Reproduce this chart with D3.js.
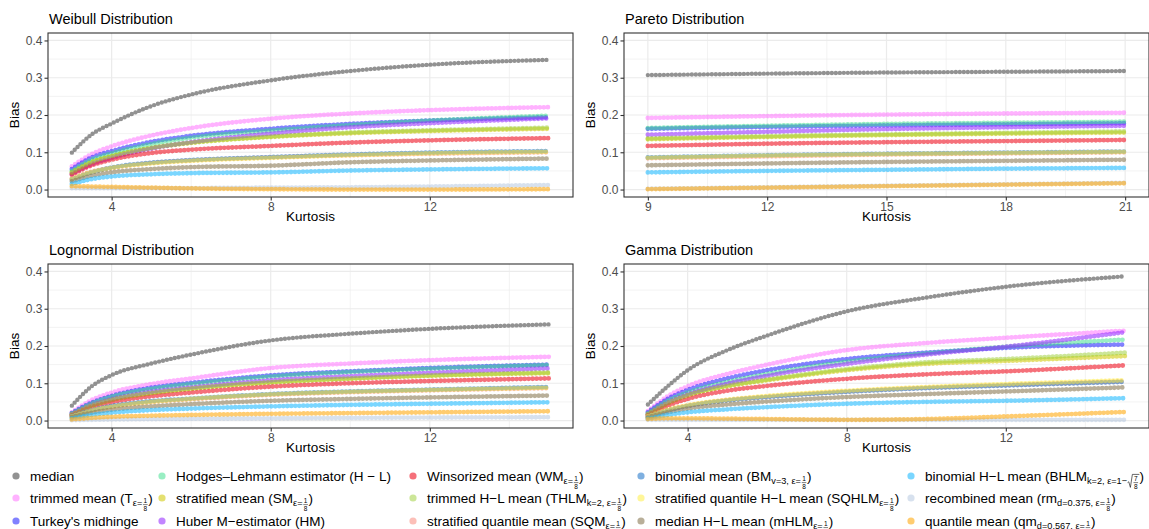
<!DOCTYPE html>
<html>
<head>
<meta charset="utf-8">
<script src="https://cdnjs.cloudflare.com/ajax/libs/d3/7.8.5/d3.min.js"></script>
<style>
  body { margin: 0; background: #fff; }
  text { font-family: "Liberation Sans", Arial, sans-serif; }
</style>
</head>
<body>
<svg id="chart" width="1149" height="529"></svg>
<script>
/* global d3: false */

const kurtosisGrid = [3, 3.5, 4, 5, 6, 8, 10, 12, 15];
const paretoGrid = [9, 12, 15, 18, 21];

// estimator order = legend order (column-major, 3 rows)
const estimators = [
  'median', 'trimmed mean', "Turkey's midhinge",
  'Hodges-Lehmann estimator', 'stratified mean', 'Huber M-estimator',
  'Winsorized mean', 'trimmed H-L mean', 'stratified quantile mean',
  'binomial mean', 'stratified quantile H-L mean', 'median H-L mean',
  'binomial H-L mean', 'recombined mean', 'quantile mean',
];

// one row per estimator, one column per kurtosisGrid value
const weibullBias = [
  [0.099, 0.148, 0.177, 0.224, 0.255, 0.293, 0.318, 0.335, 0.348],
  [0.062, 0.095, 0.116, 0.145, 0.165, 0.190, 0.204, 0.213, 0.221],
  [0.055, 0.086, 0.103, 0.128, 0.144, 0.163, 0.176, 0.185, 0.194],
  [0.050, 0.080, 0.097, 0.122, 0.139, 0.158, 0.173, 0.185, 0.198],
  [0.045, 0.073, 0.089, 0.111, 0.125, 0.141, 0.151, 0.157, 0.163],
  [0.042, 0.068, 0.085, 0.110, 0.127, 0.150, 0.167, 0.178, 0.191],
  [0.040, 0.065, 0.080, 0.098, 0.107, 0.117, 0.126, 0.132, 0.138],
  [0.046, 0.074, 0.090, 0.112, 0.126, 0.142, 0.153, 0.159, 0.166],
  [0.030, 0.048, 0.058, 0.071, 0.078, 0.086, 0.092, 0.096, 0.100],
  [0.027, 0.046, 0.059, 0.072, 0.079, 0.087, 0.094, 0.099, 0.103],
  [0.028, 0.047, 0.058, 0.070, 0.077, 0.085, 0.092, 0.097, 0.101],
  [0.022, 0.037, 0.046, 0.055, 0.060, 0.064, 0.073, 0.078, 0.083],
  [0.015, 0.028, 0.035, 0.041, 0.044, 0.046, 0.051, 0.054, 0.057],
  [0.004, 0.004, 0.004, 0.004, 0.004, 0.005, 0.006, 0.008, 0.012],
  [0.009, 0.008, 0.007, 0.005, 0.003, 0.001, 0.000, 0.000, 0.001],
];

// one column per paretoGrid value
const paretoBias = [
  [0.307, 0.311, 0.314, 0.316, 0.318],
  [0.192, 0.197, 0.201, 0.204, 0.206],
  [0.163, 0.168, 0.172, 0.175, 0.178],
  [0.165, 0.171, 0.176, 0.179, 0.182],
  [0.135, 0.141, 0.146, 0.150, 0.153],
  [0.147, 0.155, 0.162, 0.167, 0.171],
  [0.117, 0.123, 0.127, 0.130, 0.133],
  [0.137, 0.143, 0.148, 0.152, 0.156],
  [0.084, 0.089, 0.094, 0.097, 0.100],
  [0.086, 0.092, 0.096, 0.099, 0.102],
  [0.085, 0.091, 0.095, 0.098, 0.101],
  [0.065, 0.070, 0.074, 0.077, 0.080],
  [0.046, 0.050, 0.053, 0.056, 0.058],
  [0.002, 0.006, 0.010, 0.014, 0.018],
  [0.001, 0.005, 0.009, 0.013, 0.017],
];

const lognormalBias = [
  [0.040, 0.092, 0.122, 0.153, 0.177, 0.215, 0.233, 0.246, 0.258],
  [0.022, 0.055, 0.075, 0.098, 0.113, 0.141, 0.153, 0.162, 0.171],
  [0.020, 0.048, 0.066, 0.088, 0.101, 0.121, 0.132, 0.141, 0.150],
  [0.019, 0.046, 0.064, 0.085, 0.098, 0.118, 0.130, 0.139, 0.149],
  [0.016, 0.040, 0.055, 0.073, 0.085, 0.102, 0.112, 0.120, 0.127],
  [0.016, 0.041, 0.057, 0.077, 0.089, 0.108, 0.119, 0.128, 0.140],
  [0.014, 0.036, 0.049, 0.065, 0.075, 0.091, 0.100, 0.106, 0.113],
  [0.016, 0.040, 0.056, 0.074, 0.086, 0.103, 0.113, 0.121, 0.129],
  [0.011, 0.027, 0.037, 0.050, 0.057, 0.069, 0.076, 0.081, 0.087],
  [0.012, 0.028, 0.039, 0.052, 0.059, 0.071, 0.078, 0.083, 0.090],
  [0.011, 0.027, 0.037, 0.050, 0.058, 0.070, 0.077, 0.082, 0.088],
  [0.009, 0.021, 0.029, 0.038, 0.044, 0.053, 0.058, 0.062, 0.067],
  [0.006, 0.015, 0.021, 0.028, 0.032, 0.038, 0.042, 0.045, 0.049],
  [0.001, 0.002, 0.003, 0.004, 0.005, 0.006, 0.007, 0.008, 0.009],
  [0.003, 0.007, 0.010, 0.013, 0.015, 0.018, 0.020, 0.022, 0.025],
];

const gammaBias = [
  [0.043, 0.092, 0.135, 0.189, 0.228, 0.293, 0.330, 0.359, 0.387],
  [0.025, 0.065, 0.092, 0.125, 0.150, 0.189, 0.208, 0.222, 0.241],
  [0.022, 0.058, 0.082, 0.113, 0.135, 0.165, 0.182, 0.195, 0.204],
  [0.019, 0.053, 0.075, 0.104, 0.125, 0.158, 0.180, 0.198, 0.217],
  [0.016, 0.046, 0.067, 0.092, 0.108, 0.135, 0.152, 0.160, 0.173],
  [0.016, 0.048, 0.070, 0.099, 0.120, 0.152, 0.177, 0.198, 0.237],
  [0.014, 0.040, 0.058, 0.080, 0.093, 0.112, 0.124, 0.132, 0.148],
  [0.017, 0.047, 0.068, 0.093, 0.110, 0.138, 0.156, 0.165, 0.182],
  [0.010, 0.028, 0.040, 0.055, 0.064, 0.078, 0.088, 0.095, 0.105],
  [0.010, 0.027, 0.039, 0.054, 0.063, 0.077, 0.087, 0.094, 0.104],
  [0.011, 0.029, 0.041, 0.056, 0.066, 0.080, 0.090, 0.098, 0.108],
  [0.008, 0.022, 0.032, 0.043, 0.051, 0.063, 0.071, 0.078, 0.089],
  [0.005, 0.015, 0.022, 0.030, 0.036, 0.045, 0.050, 0.053, 0.060],
  [0.002, 0.002, 0.002, 0.002, 0.002, 0.002, 0.002, 0.002, 0.002],
  [0.004, 0.006, 0.006, 0.005, 0.004, 0.002, 0.004, 0.011, 0.023],
];

const yTicks = [0, 0.1, 0.2, 0.3, 0.4];
const yMinor = [0.05, 0.15, 0.25, 0.35];
const weibullTicks = [4, 8, 12];
const weibullMinor = [6, 10, 14];
const paretoTicks = [9, 12, 15, 18, 21];
const paretoMinor = [10.5, 13.5, 16.5, 19.5];

// styles (kept apart from the data)
const colors = [
  '#6e6e6e', '#ff66ff', '#1a1aff', '#33dd88', '#d2cc10',
  '#9933ff', '#ee1122', '#9acd32', '#fa8072', '#3a86d0',
  '#ffee33', '#8b7a55', '#22bbff', '#b0c4de', '#ffaa11',
];
const opacities = [
  0.75, 0.5, 0.55, 0.5, 0.6,
  0.6, 0.6, 0.5, 0.5, 0.65,
  0.5, 0.6, 0.6, 0.5, 0.6,
];

const FR = { frac: ['1', '8'] };
const labels = [
  ['median'],
  ['trimmed mean (T', { sub: 'ε=' }, FR, ')'],
  ["Turkey's midhinge"],
  ['Hodges–Lehmann estimator (H − L)'],
  ['stratified mean (SM', { sub: 'ε=' }, FR, ')'],
  ['Huber M−estimator (HM)'],
  ['Winsorized mean (WM', { sub: 'ε=' }, FR, ')'],
  ['trimmed H−L mean (THLM', { sub: 'k=2, ε=' }, FR, ')'],
  ['stratified quantile mean (SQM', { sub: 'ε=' }, FR, ')'],
  ['binomial mean (BM', { sub: 'v=3, ε=' }, FR, ')'],
  ['stratified quantile H−L mean (SQHLM', { sub: 'ε=' }, FR, ')'],
  ['median H−L mean (mHLM', { sub: 'ε=' }, FR, ')'],
  ['binomial H−L mean (BHLM', { sub: 'k=2, ε=1−' }, { root: ['7', '8'] }, ')'],
  ['recombined mean (rm', { sub: 'd=0.375, ε=' }, FR, ')'],
  ['quantile mean (qm', { sub: 'd=0.567, ε=' }, FR, ')'],
];

const svg = d3.select('#chart');
const panelW = 525;
const panelH = 164;

const panels = [
  { title: 'Weibull Distribution', left: 48, top: 33, xs: kurtosisGrid, values: weibullBias,
    domain: [2.4, 15.6], ticks: weibullTicks, minor: weibullMinor },
  { title: 'Pareto Distribution', left: 624, top: 33, xs: paretoGrid, values: paretoBias,
    domain: [8.4, 21.6], ticks: paretoTicks, minor: paretoMinor },
  { title: 'Lognormal Distribution', left: 48, top: 264, xs: kurtosisGrid, values: lognormalBias,
    domain: [2.4, 15.6], ticks: weibullTicks, minor: weibullMinor },
  { title: 'Gamma Distribution', left: 624, top: 264, xs: kurtosisGrid, values: gammaBias,
    domain: [2.4, 15.6], ticks: weibullTicks, minor: weibullMinor },
];

function drawPanel(p) {
  const x = d3.scaleLinear().domain(p.domain).range([p.left, p.left + panelW]);
  const y = d3.scaleLinear().domain([-0.02, 0.42]).range([p.top + panelH, p.top]);
  const g = svg.append('g');

  // grid
  g.selectAll('.ymin').data(yMinor).enter().append('line')
    .attr('x1', p.left).attr('x2', p.left + panelW)
    .attr('y1', d => y(d)).attr('y2', d => y(d))
    .attr('stroke', '#ebebeb').attr('stroke-width', 0.6);
  g.selectAll('.xmin').data(p.minor).enter().append('line')
    .attr('y1', p.top).attr('y2', p.top + panelH)
    .attr('x1', d => x(d)).attr('x2', d => x(d))
    .attr('stroke', '#ebebeb').attr('stroke-width', 0.6);
  g.selectAll('.ymaj').data(yTicks).enter().append('line')
    .attr('x1', p.left).attr('x2', p.left + panelW)
    .attr('y1', d => y(d)).attr('y2', d => y(d))
    .attr('stroke', '#ebebeb').attr('stroke-width', 1.2);
  g.selectAll('.xmaj').data(p.ticks).enter().append('line')
    .attr('y1', p.top).attr('y2', p.top + panelH)
    .attr('x1', d => x(d)).attr('x2', d => x(d))
    .attr('stroke', '#ebebeb').attr('stroke-width', 1.2);

  // series: dense dots along each curve
  const line = d3.line()
    .x(d => x(d[0]))
    .y(d => y(d[1]))
    .curve(d3.curveMonotoneX);
  p.values.forEach((row, i) => {
    g.append('path')
      .attr('d', line(row.map((v, j) => [p.xs[j], v])))
      .attr('fill', 'none')
      .attr('stroke', colors[i])
      .attr('stroke-opacity', opacities[i])
      .attr('stroke-width', i === 0 ? 4.4 : 4.8)
      .attr('stroke-linecap', 'round')
      .attr('stroke-dasharray', '0 4');
  });

  // border
  g.append('rect')
    .attr('x', p.left).attr('y', p.top)
    .attr('width', panelW).attr('height', panelH)
    .attr('fill', 'none').attr('stroke', '#333').attr('stroke-width', 1.1);

  // axes
  const yAxis = d3.axisLeft(y).tickValues(yTicks).tickFormat(d3.format('.1f'))
    .tickSize(3.5).tickPadding(2);
  const ya = g.append('g').attr('transform', `translate(${p.left},0)`).call(yAxis);
  const xAxis = d3.axisBottom(x).tickValues(p.ticks).tickSize(3.5).tickPadding(2);
  const xa = g.append('g').attr('transform', `translate(0,${p.top + panelH})`).call(xAxis);
  [ya, xa].forEach((a) => {
    a.select('.domain').remove();
    a.selectAll('.tick line').attr('stroke', '#333').attr('stroke-width', 1.1);
    a.selectAll('.tick text').attr('fill', '#4d4d4d').attr('font-size', 12)
      .attr('font-family', '"Liberation Sans", Arial, sans-serif');
  });

  // titles
  g.append('text').attr('x', p.left + 1).attr('y', p.top - 9)
    .attr('font-size', 14.5).attr('fill', '#000').text(p.title);
  g.append('text').attr('x', p.left + panelW / 2).attr('y', p.top + panelH + 24)
    .attr('text-anchor', 'middle').attr('font-size', 13.5).text('Kurtosis');
  g.append('text')
    .attr('transform', `translate(${p.left - 29},${p.top + panelH / 2}) rotate(-90)`)
    .attr('text-anchor', 'middle').attr('font-size', 13.5).text('Bias');
}

panels.forEach(drawPanel);

// legend
const legendX = [16, 162, 413, 641, 911];
const legendY = [476, 498, 521];

function drawFrac(g, x, base, num, den) {
  g.append('text').attr('x', x + 2.6).attr('y', base + 0.6)
    .attr('text-anchor', 'middle').attr('font-size', 6.5).text(num);
  g.append('line').attr('x1', x + 0.3).attr('x2', x + 4.9)
    .attr('y1', base + 2).attr('y2', base + 2)
    .attr('stroke', '#000').attr('stroke-width', 0.5);
  g.append('text').attr('x', x + 2.6).attr('y', base + 8.2)
    .attr('text-anchor', 'middle').attr('font-size', 6.5).text(den);
}

function drawLabel(g, segs, x0, base) {
  let cx = x0;
  segs.forEach((s) => {
    if (typeof s === 'string') {
      const t = g.append('text').attr('x', cx).attr('y', base).attr('font-size', 13.5).text(s);
      cx += t.node().getComputedTextLength();
    } else if (s.sub) {
      const t = g.append('text').attr('x', cx).attr('y', base + 3)
        .attr('font-size', 9.2).text(s.sub);
      cx += t.node().getComputedTextLength() + 0.5;
    } else if (s.frac) {
      drawFrac(g, cx, base, s.frac[0], s.frac[1]);
      cx += 5.6;
    } else if (s.root) {
      g.append('path')
        .attr('d', `M${cx},${base + 2} l1.2,-0.8 l1.6,5.6 l2,-13 h7`)
        .attr('fill', 'none').attr('stroke', '#000').attr('stroke-width', 0.6);
      drawFrac(g, cx + 5.6, base, s.root[0], s.root[1]);
      cx += 12;
    }
  });
}

const legend = svg.append('g');
estimators.forEach((name, i) => {
  const col = Math.floor(i / 3);
  const row = i % 3;
  legend.append('circle')
    .attr('cx', legendX[col]).attr('cy', legendY[row]).attr('r', 3.6)
    .attr('fill', colors[i]).attr('fill-opacity', opacities[i]);
  drawLabel(legend, labels[i], legendX[col] + 14, legendY[row] + 4.6);
});
</script>
</body>
</html>
